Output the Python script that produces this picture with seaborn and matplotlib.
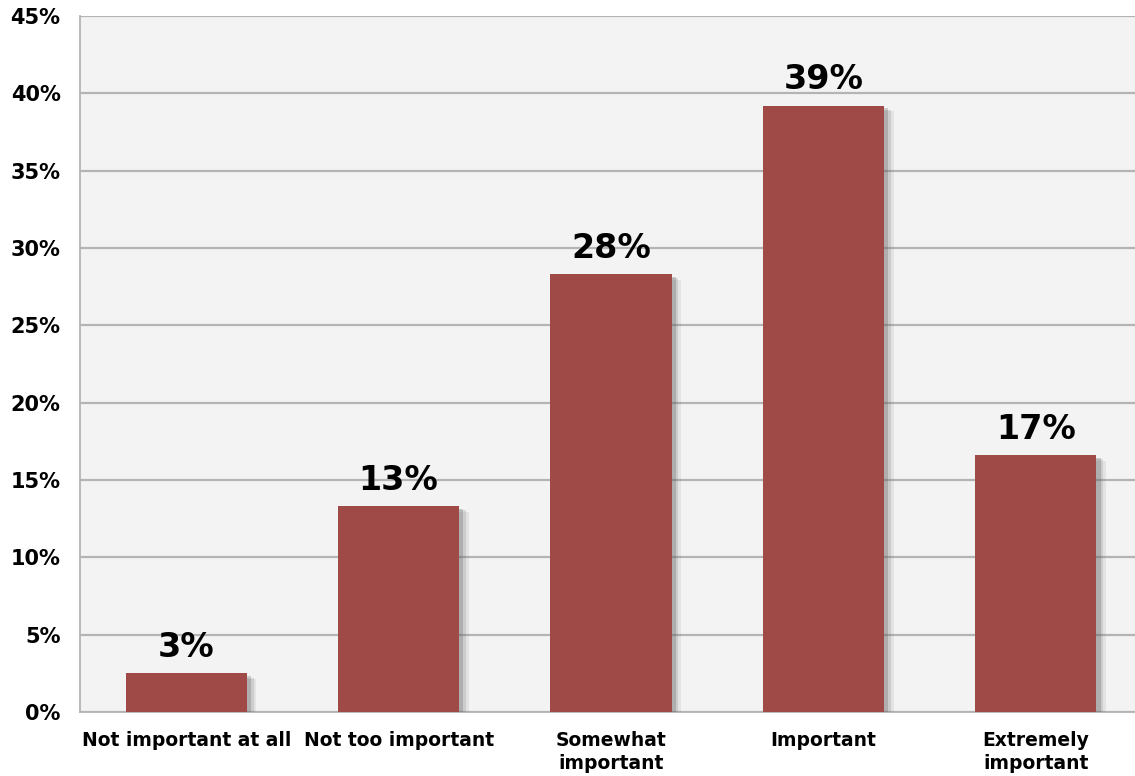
import matplotlib
matplotlib.use("Agg")
import matplotlib.pyplot as plt
import matplotlib.patheffects as pe
from matplotlib.ticker import FixedLocator, FuncFormatter
import seaborn as sns
import pandas as pd

categories = ["Not important at all", "Not too important", "Somewhat\nimportant",
              "Important", "Extremely\nimportant"]
values = [2.5, 13.3, 28.3, 39.2, 16.6]
value_labels = ["3%", "13%", "28%", "39%", "17%"]
y_ticks = [0, 5, 10, 15, 20, 25, 30, 35, 40, 45]

sns.set_style("white")
plt.rcParams["font.family"] = ["DejaVu Sans"]
plt.rcParams["text.color"] = "black"
plt.rcParams["xtick.color"] = "black"
plt.rcParams["ytick.color"] = "black"

fig = plt.figure(figsize=(11.35, 7.76), dpi=100)
ax = fig.add_axes([80 / 1135, 64 / 776, 1062 / 1135, 696 / 776])
ax.set_facecolor("#f3f3f3")

df = pd.DataFrame({"cat": categories, "val": values})
sns.barplot(data=df, x="cat", y="val", color="#a04a48", saturation=1,
            width=0.57, ax=ax, zorder=3, linewidth=0)

for p in ax.patches:
    p.set_path_effects([
        pe.SimplePatchShadow(offset=(7, -4), shadow_rgbFace="#777777", alpha=0.12),
        pe.SimplePatchShadow(offset=(5, -3), shadow_rgbFace="#666666", alpha=0.18),
        pe.SimplePatchShadow(offset=(3, -2), shadow_rgbFace="#555555", alpha=0.25),
        pe.Normal()])

ax.bar_label(ax.containers[0], labels=value_labels, padding=7,
             fontsize=24, fontweight="bold", color="black")

ax.set_ylim(0, 45)
ax.set_xlim(-0.5, len(categories) - 0.5)
ax.yaxis.set_major_locator(FixedLocator(y_ticks))
ax.yaxis.set_major_formatter(FuncFormatter(lambda v, _: f"{v:.0f}%"))
ax.grid(axis="y", color="#b4b4b4", linewidth=1.6, zorder=0)
ax.set_axisbelow(True)

ax.set_xticks(range(len(categories)))
ax.set_xticklabels(categories, fontsize=13.5, fontweight="bold", linespacing=1.25)
ax.set_xticks([i - 0.5 for i in range(len(categories) + 1)], minor=True)
ax.tick_params(axis="x", which="major", length=0, pad=14, labelcolor="black")
ax.tick_params(axis="x", which="minor", length=7, color="#b4b4b4", width=1.3, direction="out")
ax.tick_params(axis="y", length=7, color="#b4b4b4", width=1.3, direction="out",
               labelsize=15, pad=7, labelcolor="black")
for lbl in ax.get_yticklabels():
    lbl.set_fontweight("bold")

for s in ["top", "right"]:
    ax.spines[s].set_visible(False)
for s in ["left", "bottom"]:
    ax.spines[s].set_color("#b4b4b4")
    ax.spines[s].set_linewidth(1.3)

ax.set_xlabel("")
ax.set_ylabel("")

fig.savefig("out.png", dpi=100)
